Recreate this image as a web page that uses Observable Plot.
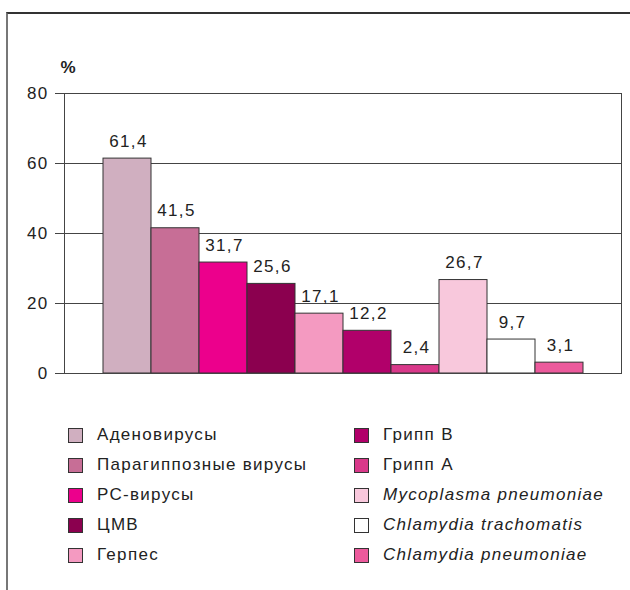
<!DOCTYPE html>
<html>
<head>
<meta charset="utf-8">
<script src="https://cdn.jsdelivr.net/npm/d3@7"></script>
<script src="https://cdn.jsdelivr.net/npm/@observablehq/plot@0.6"></script>
<style>
  html, body { margin: 0; padding: 0; background: #fff; }
  body { width: 630px; height: 590px; position: relative; overflow: hidden; font-family: "Liberation Sans", Arial, sans-serif; color: #222; }
  #frame { position: absolute; left: 6px; top: 12px; width: 630px; height: 590px; border-top: 2px solid #333; border-left: 2px solid #777; box-sizing: border-box; }
  #chart { position: absolute; left: 0; top: 0; }
  #chart svg text { letter-spacing: 1.3px; }
  #legend { position: absolute; left: 0; top: 420px; width: 630px; height: 160px; }
  .item { position: absolute; display: flex; align-items: center; height: 30px; font-size: 17px; letter-spacing: 1.3px; white-space: nowrap; }
  .sw { width: 13px; height: 13px; border: 1.5px solid #333; margin-right: 14px; flex: none; }
</style>
</head>
<body>
<div id="frame"></div>
<div id="chart"></div>
<div id="legend"></div>
<script>
const names = [
  "Аденовирусы",
  "Парагиппозные вирусы",
  "РС-вирусы",
  "ЦМВ",
  "Герпес",
  "Грипп В",
  "Грипп А",
  "Mycoplasma pneumoniae",
  "Chlamydia trachomatis",
  "Chlamydia pneumoniae"
];
const values = [61.4, 41.5, 31.7, 25.6, 17.1, 12.2, 2.4, 26.7, 9.7, 3.1];
const colors = ["#D0AFC0", "#C76E96", "#EC008C", "#8B004F", "#F49AC1", "#B1006A", "#D9398A", "#F8C8DC", "#FFFFFF", "#EC5A9C"];
const italic = [false, false, false, false, false, false, false, true, true, true];
const yTicks = [0, 20, 40, 60, 80];

const data = names.map((n, i) => ({name: n, value: values[i]}));

const chart = Plot.plot({
  width: 630,
  height: 400,
  marginLeft: 64,
  marginRight: 9,
  marginTop: 93,
  marginBottom: 27,
  style: {fontFamily: "'Liberation Sans', Arial, sans-serif", fontSize: "17px", color: "#222", background: "transparent"},
  x: {type: "band", domain: names, paddingInner: 0, paddingOuter: 0.76, axis: null},
  y: {domain: [0, 80], ticks: yTicks, label: null},
  color: {domain: names, range: colors},
  marks: [
    Plot.gridY(yTicks, {stroke: "#444", strokeOpacity: 1, strokeWidth: 1}),
    Plot.barY(data, {x: "name", y: "value", fill: "name", stroke: "#333", strokeWidth: 1}),
    Plot.text(data, {x: "name", y: "value", text: d => d.value.toFixed(1).replace(".", ","), lineAnchor: "bottom", dy: -12, dx: 1, fill: "#222", fontSize: 17}),
    Plot.frame({stroke: "#444", strokeWidth: 1}),
    Plot.axisY({ticks: yTicks, tickSize: 9, tickPadding: 7, stroke: "#444", label: null, fontSize: 17}),
    Plot.text(["%"], {frameAnchor: "top-left", dx: -4, dy: -33, text: d => d, fontWeight: "bold", fontSize: 17, fill: "#222"})
  ]
});
document.getElementById("chart").appendChild(chart);

const legend = document.getElementById("legend");
names.forEach((n, i) => {
  const col = i < 5 ? 0 : 1;
  const row = i % 5;
  const it = document.createElement("div");
  it.className = "item";
  it.style.left = (col === 0 ? 68 : 354) + "px";
  it.style.top = (row * 30) + "px";
  const sw = document.createElement("span");
  sw.className = "sw";
  sw.style.background = colors[i];
  const tx = document.createElement("span");
  tx.textContent = n;
  if (italic[i]) tx.style.fontStyle = "italic";
  it.appendChild(sw);
  it.appendChild(tx);
  legend.appendChild(it);
});
</script>
</body>
</html>
